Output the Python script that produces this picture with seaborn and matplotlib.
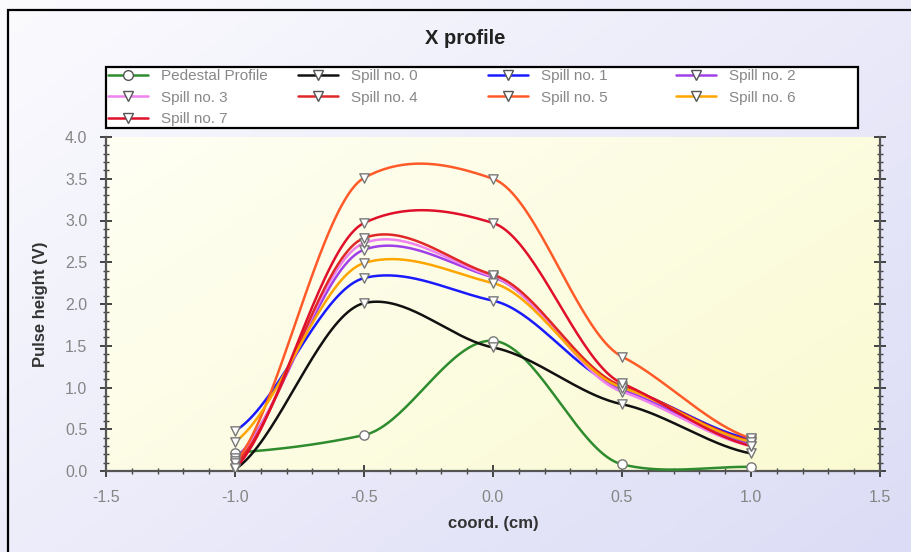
import numpy as np
import pandas as pd
import matplotlib
matplotlib.use("Agg")
import matplotlib.pyplot as plt
from matplotlib.lines import Line2D
from matplotlib.patches import Rectangle
from matplotlib.ticker import MultipleLocator, FormatStrFormatter
from matplotlib.colors import LinearSegmentedColormap
import seaborn as sns

# data
coord = [-1.0, -0.5, 0.0, 0.5, 1.0]
pedestal = [0.22, 0.43, 1.56, 0.08, 0.05]
spill0 = [0.02, 2.01, 1.48, 0.80, 0.21]
spill1 = [0.48, 2.31, 2.04, 1.00, 0.38]
spill2 = [0.15, 2.65, 2.32, 0.97, 0.33]
spill3 = [0.12, 2.73, 2.33, 0.95, 0.30]
spill4 = [0.08, 2.79, 2.35, 1.02, 0.36]
spill5 = [0.10, 3.51, 3.50, 1.37, 0.39]
spill6 = [0.35, 2.49, 2.25, 1.00, 0.35]
spill7 = [0.03, 2.97, 2.97, 1.05, 0.30]

names = ["Pedestal Profile"] + [f"Spill no. {i}" for i in range(8)]
values = [pedestal, spill0, spill1, spill2, spill3, spill4, spill5, spill6, spill7]
colors = ["#2e8b2e", "#111111", "#1a1aff", "#a040e8", "#ee82ee",
          "#e02828", "#ff5a28", "#ffa500", "#e0102a"]
markers = ["o"] + ["v"] * 8


def smooth(x, y, c=0.5, n=40):
    # cardinal spline through the points, tangents scaled by c
    x = np.asarray(x, float)
    y = np.asarray(y, float)
    m = np.zeros_like(y)
    m[1:-1] = (y[2:] - y[:-2]) / (x[2:] - x[:-2])
    m[0] = (y[1] - y[0]) / (x[1] - x[0])
    m[-1] = (y[-1] - y[-2]) / (x[-1] - x[-2])
    m *= c
    xs, ys = [], []
    for i in range(len(x) - 1):
        h = x[i + 1] - x[i]
        t = np.linspace(0, 1, n, endpoint=(i == len(x) - 2))
        h00 = 2 * t**3 - 3 * t**2 + 1
        h10 = t**3 - 2 * t**2 + t
        h01 = -2 * t**3 + 3 * t**2
        h11 = t**3 - t**2
        xs.append(x[i] + t * h)
        ys.append(h00 * y[i] + h10 * h * m[i] + h01 * y[i + 1] + h11 * h * m[i + 1])
    return np.concatenate(xs), np.concatenate(ys)


pts = pd.DataFrame([(nm, xx, yy) for nm, v in zip(names, values) for xx, yy in zip(coord, v)],
                   columns=["series", "coord", "height"])
curves = []
for nm, v in zip(names, values):
    sx, sy = smooth(coord, v)
    curves.append(pd.DataFrame({"series": nm, "coord": sx, "height": sy}))
curves = pd.concat(curves, ignore_index=True)

sns.set_theme(style="ticks")
plt.rcParams['font.family'] = ['Liberation Sans', 'DejaVu Sans']

W, H = 912, 552
fig = plt.figure(figsize=(W / 100, H / 100), dpi=100)

# figure background gradient + outer frame
bg = fig.add_axes([0, 0, 1, 1], zorder=-10)
gx, gy = np.meshgrid(np.linspace(0, 1, 200), np.linspace(0, 1, 200))
bg.imshow(0.55 * gx + 0.45 * gy, cmap=LinearSegmentedColormap.from_list("bgc", ["#fbfbfe", "#dcdcf6"]),
          extent=[0, 1, 0, 1], aspect="auto", origin="upper")
bg.set_axis_off()
bg.add_patch(Rectangle((8 / W, -0.05), 1.1, 1 - 10 / H + 0.05, transform=bg.transAxes,
                       fill=False, edgecolor="black", lw=1.6))
# legend box
bg.add_patch(Rectangle((106 / W, 1 - 128 / H), (858 - 106) / W, 61 / H, transform=bg.transAxes,
                       facecolor="white", edgecolor="black", lw=1.6, zorder=5))

ax = fig.add_axes([106 / W, 1 - 471 / H, (880 - 106) / W, (471 - 137) / H])
ax.imshow(0.6 * gx + 0.4 * gy, cmap=LinearSegmentedColormap.from_list("axc", ["#fffff4", "#fafad2"]),
          extent=[-1.5, 1.5, 0, 4], aspect="auto", origin="upper", zorder=0)

palette = dict(zip(names, colors))
sns.lineplot(data=curves, x="coord", y="height", hue="series", palette=palette,
             hue_order=names, sort=False, estimator=None, lw=1.8, legend=False, ax=ax, zorder=3)
for nm, mk in zip(names, markers):
    sub = pts[pts["series"] == nm]
    sns.scatterplot(data=sub, x="coord", y="height", marker=mk, s=45, color="white",
                    edgecolor="#777777", linewidth=1.0, legend=False, ax=ax, zorder=4)

ax.set_xlim(-1.5, 1.5)
ax.set_ylim(0, 4)
ax.xaxis.set_major_locator(MultipleLocator(0.5))
ax.xaxis.set_minor_locator(MultipleLocator(0.1))
ax.yaxis.set_major_locator(MultipleLocator(0.5))
ax.yaxis.set_minor_locator(MultipleLocator(0.1))
ax.xaxis.set_major_formatter(FormatStrFormatter("%.1f"))
ax.yaxis.set_major_formatter(FormatStrFormatter("%.1f"))
ax.tick_params(which="major", direction="inout", length=9, width=1.4, color="#444444",
               labelsize=11.5, labelcolor="#858585", right=True)
ax.tick_params(which="minor", direction="inout", length=5, width=1.0, color="#444444", right=True)
ax.tick_params(axis="x", pad=9)
ax.tick_params(axis="y", pad=9)
for side in ["left", "bottom", "right"]:
    ax.spines[side].set_color("#555555")
    ax.spines[side].set_linewidth(1.6)
ax.spines["top"].set_visible(False)
ax.set_xlabel("coord. (cm)", fontsize=12, fontweight="bold", color="#333333", labelpad=8)
ax.set_ylabel("Pulse height (V)", fontsize=12, fontweight="bold", color="#333333", labelpad=12)

fig.text(465 / W, 1 - 38 / H, "X profile", ha="center", va="center",
         fontsize=14.5, fontweight="bold", color="#222222")

handles = {nm: Line2D([], [], color=col, lw=1.8, marker=mk, markersize=7,
                      markerfacecolor="white", markeredgecolor="#555555")
           for nm, mk, col in zip(names, markers, colors)}
# one legend per column, laid out on a fixed grid like the reference
columns = [["Pedestal Profile", "Spill no. 3", "Spill no. 7"],
           ["Spill no. 0", "Spill no. 4"],
           ["Spill no. 1", "Spill no. 5"],
           ["Spill no. 2", "Spill no. 6"]]
col_x = [108, 298, 488, 676]
for cx, col in zip(col_x, columns):
    leg = fig.legend([handles[o] for o in col], col, loc="upper left",
                     bbox_to_anchor=(cx / W, 1 - 69 / H), frameon=False,
                     fontsize=11, handlelength=2.6, labelspacing=0.5, borderpad=0.0,
                     handletextpad=0.9, borderaxespad=0)
    leg.set_zorder(10)
    for t in leg.get_texts():
        t.set_color("#888888")

fig.savefig("out.png", dpi=100)
